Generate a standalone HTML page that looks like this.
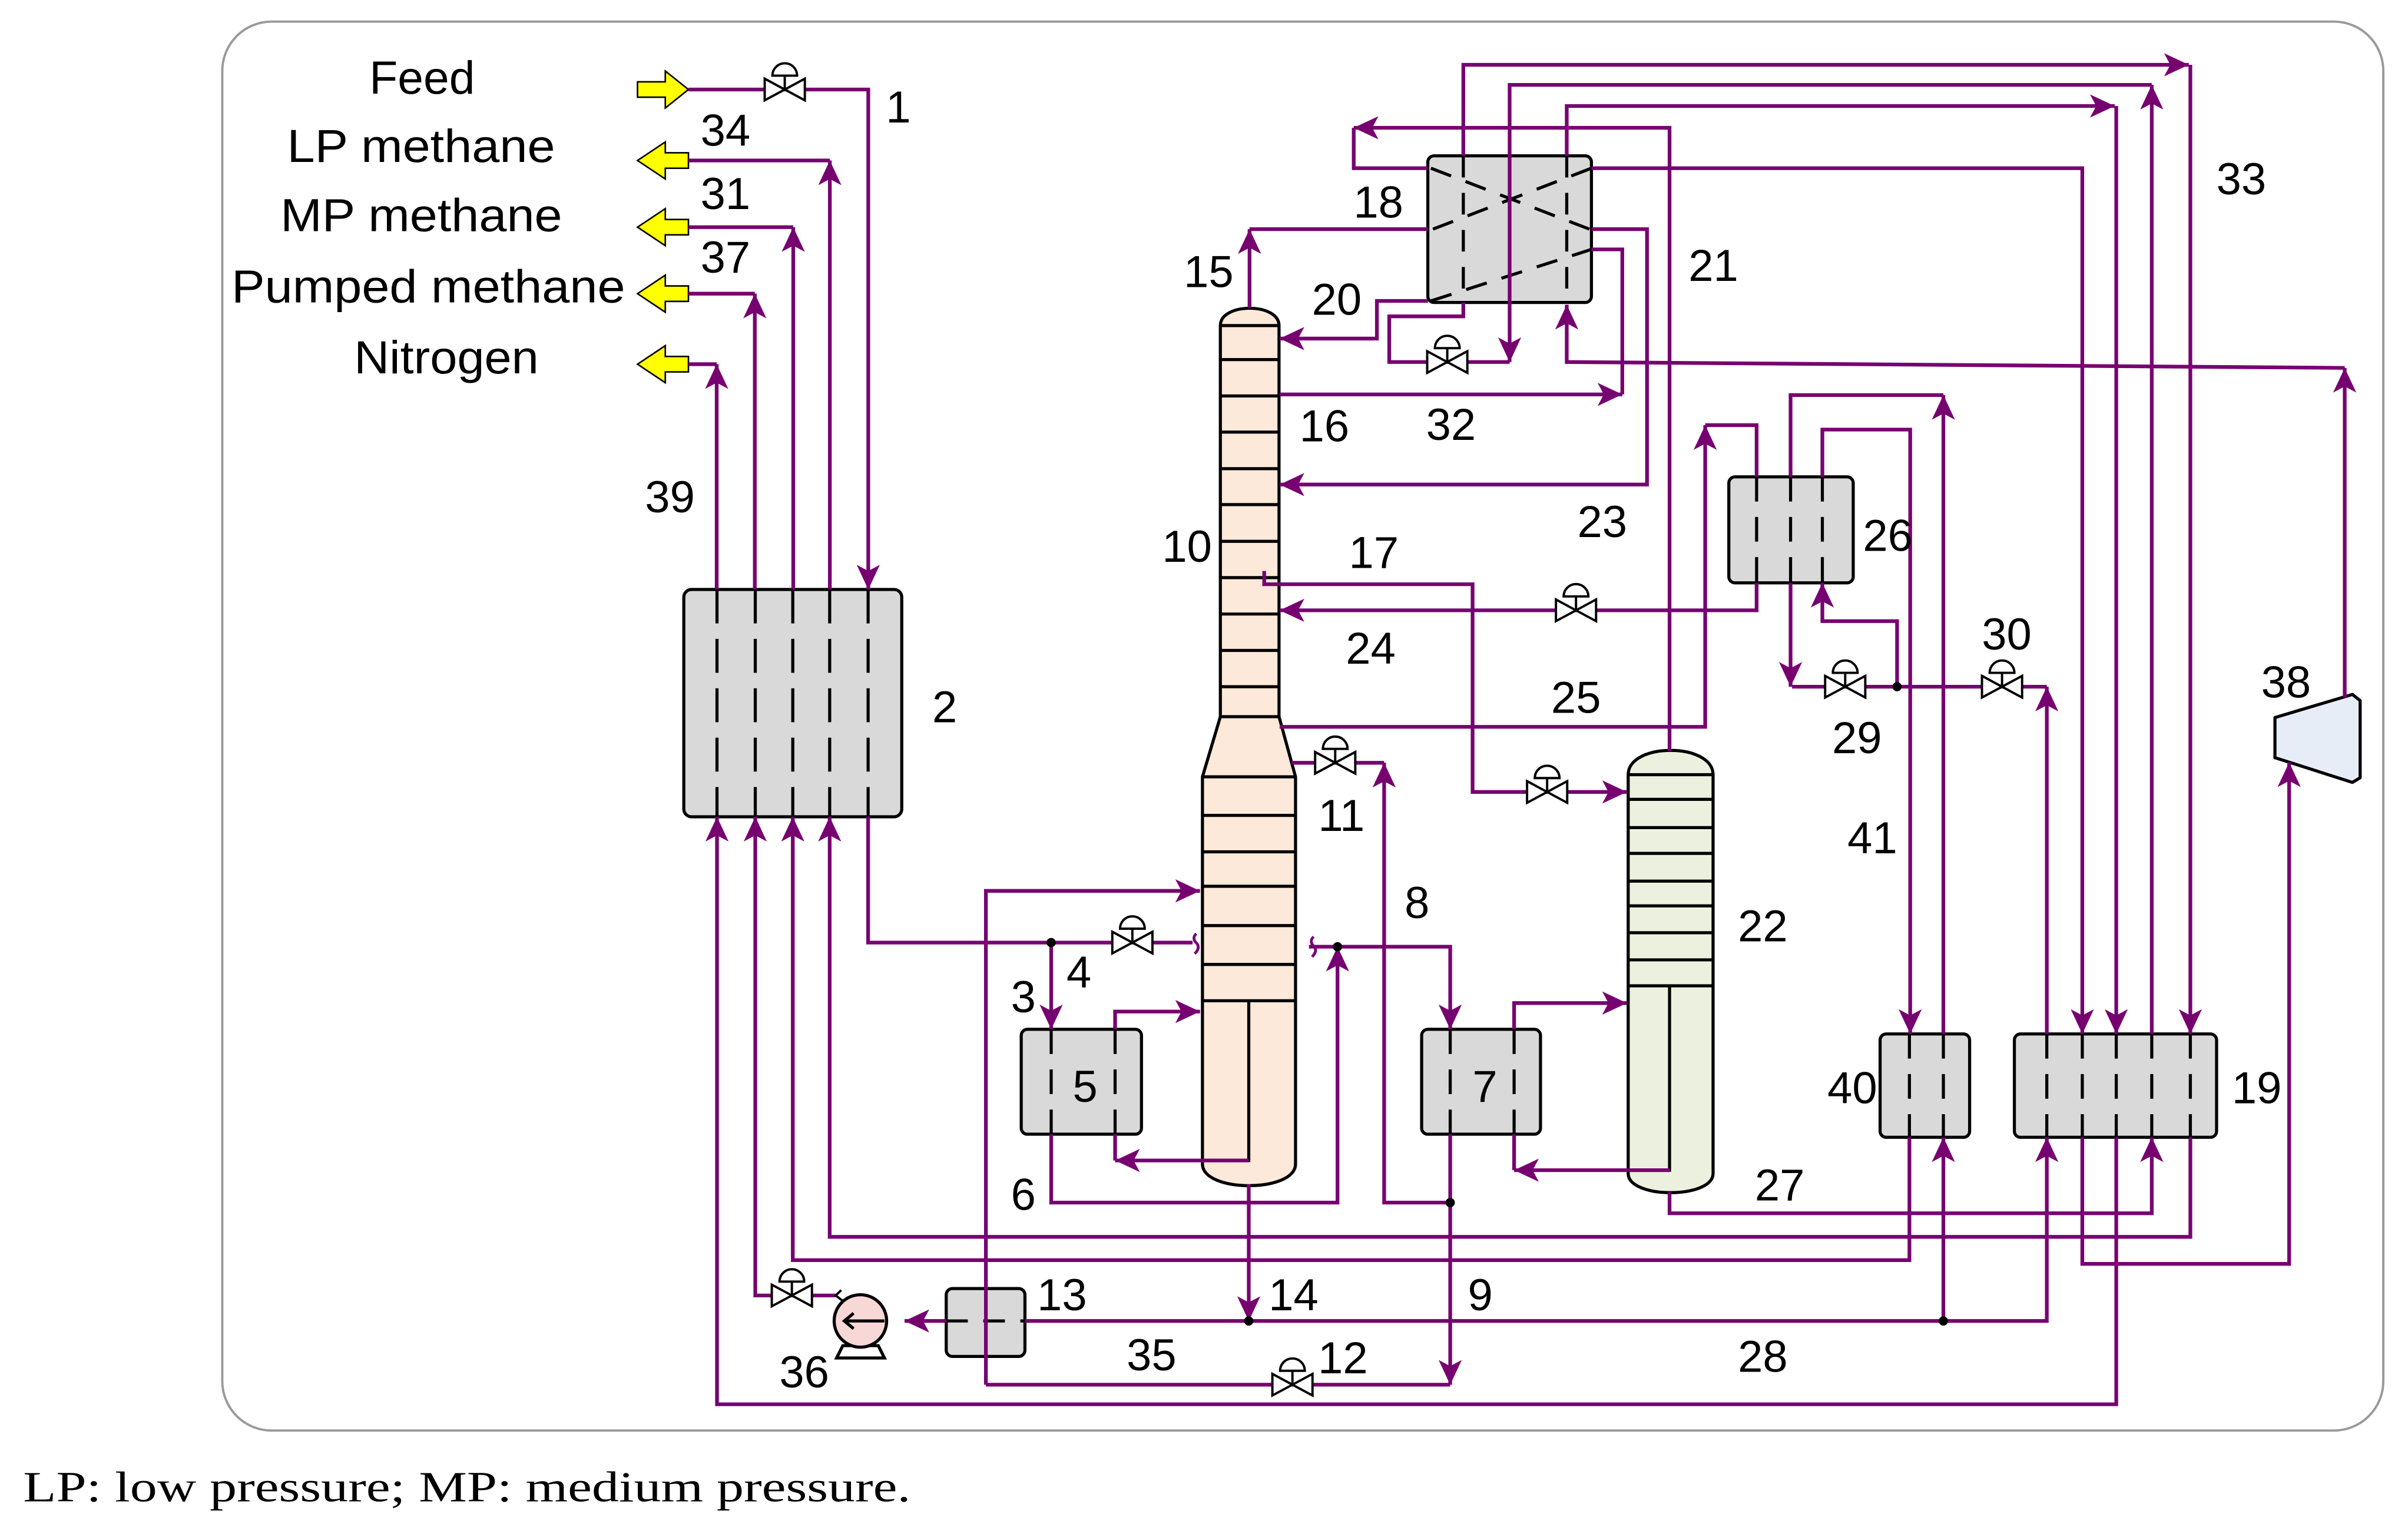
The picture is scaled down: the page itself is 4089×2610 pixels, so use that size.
<!DOCTYPE html>
<html><head><meta charset="utf-8"><style>
html,body{margin:0;padding:0;background:#fff;}
svg{display:block;}
text{font-family:"Liberation Sans",Arial,sans-serif;fill:#000;}
</style></head><body>
<svg xmlns="http://www.w3.org/2000/svg" width="4089" height="2610" viewBox="0 0 1560 996" preserveAspectRatio="none">
<defs>
<marker id="a" markerUnits="userSpaceOnUse" markerWidth="20" markerHeight="20" viewBox="0 0 20 20" refX="17" refY="10" orient="auto">
<path d="M1,2.5 L17,10 L1,17.5 L5,10 Z" fill="#770070"/>
</marker>
<g id="v"><path d="M-13,-7 L13,7 L13,-7 L-13,7 Z" fill="#fff" stroke="#000" stroke-width="1.5"/><line x1="0" y1="0" x2="0" y2="-9" stroke="#000" stroke-width="1.5"/><path d="M-8,-9 A8,8 0 0 1 8,-9 Z" fill="#fff" stroke="#000" stroke-width="1.5"/></g>
</defs>
<rect x="144" y="14" width="1400" height="913" rx="32" ry="32" fill="#fff" stroke="#9a9a9a" stroke-width="1.5"/>

<g fill="#ffff00" stroke="#000" stroke-width="1">
<polygon points="446,58 431,46 431,53 413,53 413,63 431,63 431,70"/>
<polygon points="413,104 431,92 431,99 446,99 446,109 431,109 431,116"/>
<polygon points="413,147.2 431,135.2 431,142.2 446,142.2 446,152.2 431,152.2 431,159.2"/>
<polygon points="413,190.3 431,178.3 431,185.3 446,185.3 446,195.3 431,195.3 431,202.3"/>
<polygon points="413,236 431,224 431,231 446,231 446,241 431,241 431,248"/>
</g>

<g stroke="#000" stroke-width="2">
<rect x="443" y="382" width="141.2" height="147.3" rx="5" fill="#d9d9d9"/>
<rect x="661.6" y="667" width="77.9" height="68" rx="4" fill="#d9d9d9"/>
<rect x="921" y="667" width="77" height="68" rx="4" fill="#d9d9d9"/>
<rect x="1218" y="670" width="58" height="67" rx="4" fill="#d9d9d9"/>
<rect x="1305" y="670" width="131" height="67" rx="4" fill="#d9d9d9"/>
<rect x="1120" y="309" width="80.6" height="68.7" rx="4" fill="#d9d9d9"/>
<rect x="925" y="101" width="106" height="95" rx="4" fill="#d9d9d9"/>
<rect x="613" y="835" width="51" height="44" rx="4" fill="#d9d9d9"/>
<path d="M790.6,211 C790.6,196 828.6,196 828.6,211 L828.6,464.4 L839.3,503.4 L839.3,754.3 C839.3,773 779,773 779,754.3 L779,503.4 L790.6,464.4 Z" fill="#fde9d9"/>
<path d="M1054.8,502 C1054.8,481 1109.8,481 1109.8,502 L1109.8,760.4 C1109.8,777 1054.8,777 1054.8,760.4 Z" fill="#ebf1de"/>
<polygon points="1473.8,465 1524,450 1529,454 1529,504 1524,507 1473.8,491" fill="#e6edf7" stroke-linejoin="round"/>
</g>
<g stroke="#000" stroke-width="2">
<line x1="790.6" y1="211" x2="828.6" y2="211"/>
<line x1="790.6" y1="233" x2="828.6" y2="233"/>
<line x1="790.6" y1="256.6" x2="828.6" y2="256.6"/>
<line x1="790.6" y1="280" x2="828.6" y2="280"/>
<line x1="790.6" y1="303.7" x2="828.6" y2="303.7"/>
<line x1="790.6" y1="327" x2="828.6" y2="327"/>
<line x1="790.6" y1="350.8" x2="828.6" y2="350.8"/>
<line x1="790.6" y1="374.3" x2="828.6" y2="374.3"/>
<line x1="790.6" y1="397.9" x2="828.6" y2="397.9"/>
<line x1="790.6" y1="421.5" x2="828.6" y2="421.5"/>
<line x1="790.6" y1="445" x2="828.6" y2="445"/>
<line x1="790.6" y1="464.4" x2="828.6" y2="464.4"/>
<line x1="779" y1="503.4" x2="839.3" y2="503.4"/>
<line x1="779" y1="528.4" x2="839.3" y2="528.4"/>
<line x1="779" y1="552" x2="839.3" y2="552"/>
<line x1="779" y1="574.3" x2="839.3" y2="574.3"/>
<line x1="779" y1="599.8" x2="839.3" y2="599.8"/>
<line x1="779" y1="625" x2="839.3" y2="625"/>
<line x1="779" y1="648.5" x2="839.3" y2="648.5"/>
<polyline points="809,648.5 809,752 779,752" fill="none"/>
<line x1="1054.8" y1="502" x2="1109.8" y2="502"/>
<line x1="1054.8" y1="518" x2="1109.8" y2="518"/>
<line x1="1054.8" y1="536.3" x2="1109.8" y2="536.3"/>
<line x1="1054.8" y1="553" x2="1109.8" y2="553"/>
<line x1="1054.8" y1="571" x2="1109.8" y2="571"/>
<line x1="1054.8" y1="587" x2="1109.8" y2="587"/>
<line x1="1054.8" y1="604.4" x2="1109.8" y2="604.4"/>
<line x1="1054.8" y1="622" x2="1109.8" y2="622"/>
<line x1="1054.8" y1="638.8" x2="1109.8" y2="638.8"/>
<polyline points="1081.6,638.8 1081.6,758.3 1054.8,758.3" fill="none"/>
</g>
<g stroke="#000" stroke-width="2" stroke-dasharray="22 10" fill="none">
<line x1="464.5" y1="382" x2="464.5" y2="529.3"/>
<line x1="489.3" y1="382" x2="489.3" y2="529.3"/>
<line x1="513.6" y1="382" x2="513.6" y2="529.3"/>
<line x1="537.5" y1="382" x2="537.5" y2="529.3"/>
<line x1="562.4" y1="382" x2="562.4" y2="529.3"/>
</g>
<g stroke="#000" stroke-width="2" stroke-dasharray="16 10" fill="none">
<line x1="681" y1="667" x2="681" y2="735"/><line x1="722.4" y1="667" x2="722.4" y2="735"/>
<line x1="939.5" y1="667" x2="939.5" y2="735"/><line x1="980.9" y1="667" x2="980.9" y2="735"/>
<line x1="1237" y1="670" x2="1237" y2="737"/><line x1="1259" y1="670" x2="1259" y2="737"/>
<line x1="1326" y1="670" x2="1326" y2="737"/><line x1="1349" y1="670" x2="1349" y2="737"/>
<line x1="1371" y1="670" x2="1371" y2="737"/><line x1="1394" y1="670" x2="1394" y2="737"/>
<line x1="1419" y1="670" x2="1419" y2="737"/>
<line x1="1138" y1="309" x2="1138" y2="377.7"/><line x1="1160" y1="309" x2="1160" y2="377.7"/><line x1="1180.6" y1="309" x2="1180.6" y2="377.7"/>
</g>
<g stroke="#000" stroke-width="2" stroke-dasharray="14 10" fill="none">
<line x1="948" y1="101" x2="948" y2="196"/><line x1="978" y1="101" x2="978" y2="196"/><line x1="1015" y1="101" x2="1015" y2="196"/>
<line x1="927" y1="109" x2="1031" y2="149"/><line x1="1031" y1="109" x2="927" y2="149"/>
<line x1="927" y1="195" x2="1031" y2="161.6"/>
<line x1="613" y1="856" x2="664" y2="856"/><line x1="638.7" y1="835" x2="638.7" y2="879"/>
</g>

<g stroke="#770070" stroke-width="2.4" fill="none">
<polyline points="446,58 562.5,58 562.5,382" marker-end="url(#a)"/>
<polyline points="537.6,382 537.6,104" marker-end="url(#a)"/><polyline points="537.6,104 446,104"/>
<polyline points="513.9,382 513.9,147.2" marker-end="url(#a)"/><polyline points="513.9,147.2 446,147.2"/>
<polyline points="489,382 489,190.3" marker-end="url(#a)"/><polyline points="489,190.3 446,190.3"/>
<polyline points="464.3,382 464.3,236" marker-end="url(#a)"/><polyline points="464.3,236 446,236"/>
<polyline points="562.4,529.3 562.4,610.8 772.6,610.8"/>
<polyline points="681,610.8 681,667" marker-end="url(#a)"/>
<polyline points="1419,737 1419,801.5 537.5,801.5 537.5,529.3" marker-end="url(#a)"/>
<polyline points="1237,737 1237,816.6 513.6,816.6 513.6,529.3" marker-end="url(#a)"/>
<polyline points="541.4,839.5 489.3,839.5 489.3,529.3" marker-end="url(#a)"/>
<polyline points="1371,737 1371,910 464.5,910 464.5,529.3" marker-end="url(#a)"/>
<polyline points="722.4,667 722.4,655.5 777.4,655.5" marker-end="url(#a)"/>
<polyline points="681,735 681,779.3 866.5,779.3 866.5,613.5" marker-end="url(#a)"/>
<polyline points="848,613.5 939.5,613.5 939.5,667" marker-end="url(#a)"/>
<polyline points="809,752 722.4,752" marker-end="url(#a)"/>
<polyline points="722.4,735 722.4,752"/>
<polyline points="638.7,897.3 638.7,577.3 777.4,577.3" marker-end="url(#a)"/>
<polyline points="638.7,897.3 939.5,897.3"/>
<polyline points="939.5,735 939.5,897.3" marker-end="url(#a)"/>
<polyline points="939.5,779.3 896.7,779.3 896.7,494.3" marker-end="url(#a)"/>
<polyline points="896.7,494.3 836.7,494.3"/>
<polyline points="980.9,667 980.9,650 1054,650" marker-end="url(#a)"/>
<polyline points="980.9,735 980.9,758.3"/>
<polyline points="1081.6,758.3 980.9,758.3" marker-end="url(#a)"/>
<polyline points="1081.6,486.7 1081.6,82.8 877,82.8" marker-end="url(#a)"/>
<polyline points="877,82.8 877,109 925,109"/>
<polyline points="1031,109 1349,109 1349,670" marker-end="url(#a)"/>
<polyline points="1081.6,772.6 1081.6,786.2 1394,786.2 1394,737" marker-end="url(#a)"/>
<polyline points="819,370 819,378.6 954,378.6 954,513.2 1054,513.2" marker-end="url(#a)"/>
<polyline points="809,767.4 809,856" marker-end="url(#a)"/>
<polyline points="664,856 1326,856 1326,737" marker-end="url(#a)"/>
<polyline points="1259,856 1259,737" marker-end="url(#a)"/>
<polyline points="613,856 586,856" marker-end="url(#a)"/>
<polyline points="1326,670 1326,445" marker-end="url(#a)"/>
<polyline points="1326,445 1161,445"/>
<polyline points="1160,377.7 1160,445" marker-end="url(#a)"/>
<polyline points="1229,445 1229,402.5 1180.6,402.5 1180.6,377.7" marker-end="url(#a)"/>
<polyline points="1180.6,309 1180.6,278.4 1237.5,278.4 1237.5,670" marker-end="url(#a)"/>
<polyline points="1259,670 1259,256" marker-end="url(#a)"/>
<polyline points="1259,256 1160,256 1160,309"/>
<polyline points="1138,377.7 1138,395.5 829,395.5" marker-end="url(#a)"/>
<polyline points="829,471 1104.7,471 1104.7,275.5" marker-end="url(#a)"/>
<polyline points="1104.7,275.5 1138,275.5 1138,309"/>
<polyline points="1349,737 1349,819 1483,819 1483,494" marker-end="url(#a)"/>
<polyline points="1519,452 1519,238.4" marker-end="url(#a)"/>
<polyline points="1519,238.4 1015,234.6 1015,197.5" marker-end="url(#a)"/>
<polyline points="948,101 948,42 1418,42" marker-end="url(#a)"/>
<polyline points="1419,42 1419,670" marker-end="url(#a)"/>
<polyline points="1394,670 1394,55" marker-end="url(#a)"/>
<polyline points="1394,55 978,55 978,234.6" marker-end="url(#a)"/>
<polyline points="978,234.6 900,234.6 900,205 948,205 948,196"/>
<polyline points="1015,101 1015,68.7 1370,68.7" marker-end="url(#a)"/>
<polyline points="1371,68.7 1371,670" marker-end="url(#a)"/>
<polyline points="809.5,199.6 809.5,148.5" marker-end="url(#a)"/>
<polyline points="809.5,148.5 925,148.5"/>
<polyline points="1031,148.5 1067,148.5 1067,314 829,314" marker-end="url(#a)"/>
<polyline points="829,255.6 1051,255.6" marker-end="url(#a)"/>
<polyline points="1051,255.6 1051,161.6 1031,161.6"/>
<polyline points="925,195 892,195 892,219.4 829,219.4" marker-end="url(#a)"/>
<path d="M775,605 q-3,3 0,6 q3,3 -1,7" stroke-width="1.8"/>
<path d="M851,607 q-3,3 0,6 q3,3 -1,7" stroke-width="1.8"/>
</g>

<g fill="#000">
<circle cx="681" cy="610.8" r="3"/><circle cx="866.5" cy="613.5" r="3"/><circle cx="939.5" cy="779.3" r="3"/>
<circle cx="809" cy="856" r="3"/><circle cx="1259" cy="856" r="3"/><circle cx="1229" cy="445" r="3"/>
</g>

<use href="#v" x="508.4" y="58"/>
<use href="#v" x="937.6" y="234.6"/>
<use href="#v" x="1021" y="395.5"/>
<use href="#v" x="1195.4" y="445"/>
<use href="#v" x="1297" y="445"/>
<use href="#v" x="865" y="494.3"/>
<use href="#v" x="1002.3" y="513.2"/>
<use href="#v" x="733.6" y="610.8"/>
<use href="#v" x="513" y="839.5"/>
<use href="#v" x="837.3" y="897.3"/>

<g stroke="#000" stroke-width="2">
<polygon points="546,872 569,872 573,880 542,880" fill="#fff"/>
<circle cx="557.4" cy="856" r="17" fill="#f8d7d7"/>
<line x1="573" y1="856" x2="548" y2="856"/>
<path d="M553,851 L547,856 L553,861" fill="none"/>
<path d="M546,843 L541.4,839.5 L545,836" fill="none" stroke-width="1.5"/>
</g>

<g font-size="30">
<text x="273.5" y="60.6" text-anchor="middle">Feed</text>
<text x="186" y="105" textLength="173.6" lengthAdjust="spacingAndGlyphs">LP methane</text>
<text x="181.7" y="149.8" textLength="182.5" lengthAdjust="spacingAndGlyphs">MP methane</text>
<text x="150" y="196" textLength="255" lengthAdjust="spacingAndGlyphs">Pumped methane</text>
<text x="229.4" y="242" textLength="119.6" lengthAdjust="spacingAndGlyphs">Nitrogen</text>
</g>
<g font-size="29" text-anchor="middle">
<text x="582" y="79.4">1</text>
<text x="470" y="94.5">34</text>
<text x="470" y="135.5">31</text>
<text x="470" y="176.7">37</text>
<text x="434" y="332">39</text>
<text x="612" y="468">2</text>
<text x="783" y="186">15</text>
<text x="893" y="141">18</text>
<text x="866" y="204">20</text>
<text x="1110" y="182">21</text>
<text x="858" y="286">16</text>
<text x="940" y="285">32</text>
<text x="1038" y="348">23</text>
<text x="769" y="364">10</text>
<text x="890" y="368">17</text>
<text x="888" y="430">24</text>
<text x="1021" y="462">25</text>
<text x="1223" y="357">26</text>
<text x="1452" y="126">33</text>
<text x="1300" y="421">30</text>
<text x="1203" y="488">29</text>
<text x="1481" y="452">38</text>
<text x="869" y="538.5">11</text>
<text x="918" y="595">8</text>
<text x="1142" y="610">22</text>
<text x="1213" y="553">41</text>
<text x="663" y="656">3</text>
<text x="699" y="640">4</text>
<text x="703" y="714">5</text>
<text x="962" y="714">7</text>
<text x="1200" y="715">40</text>
<text x="1462" y="715">19</text>
<text x="663" y="784">6</text>
<text x="1153" y="778">27</text>
<text x="838" y="849">14</text>
<text x="959" y="849">9</text>
<text x="688" y="849">13</text>
<text x="870" y="890">12</text>
<text x="746" y="888">35</text>
<text x="521" y="899">36</text>
<text x="1142" y="889">28</text>
</g>
<text x="15" y="973" font-size="28" style="font-family:'Liberation Serif',serif" textLength="575" lengthAdjust="spacingAndGlyphs">LP: low pressure; MP: medium pressure.</text>
</svg>
</body></html>
